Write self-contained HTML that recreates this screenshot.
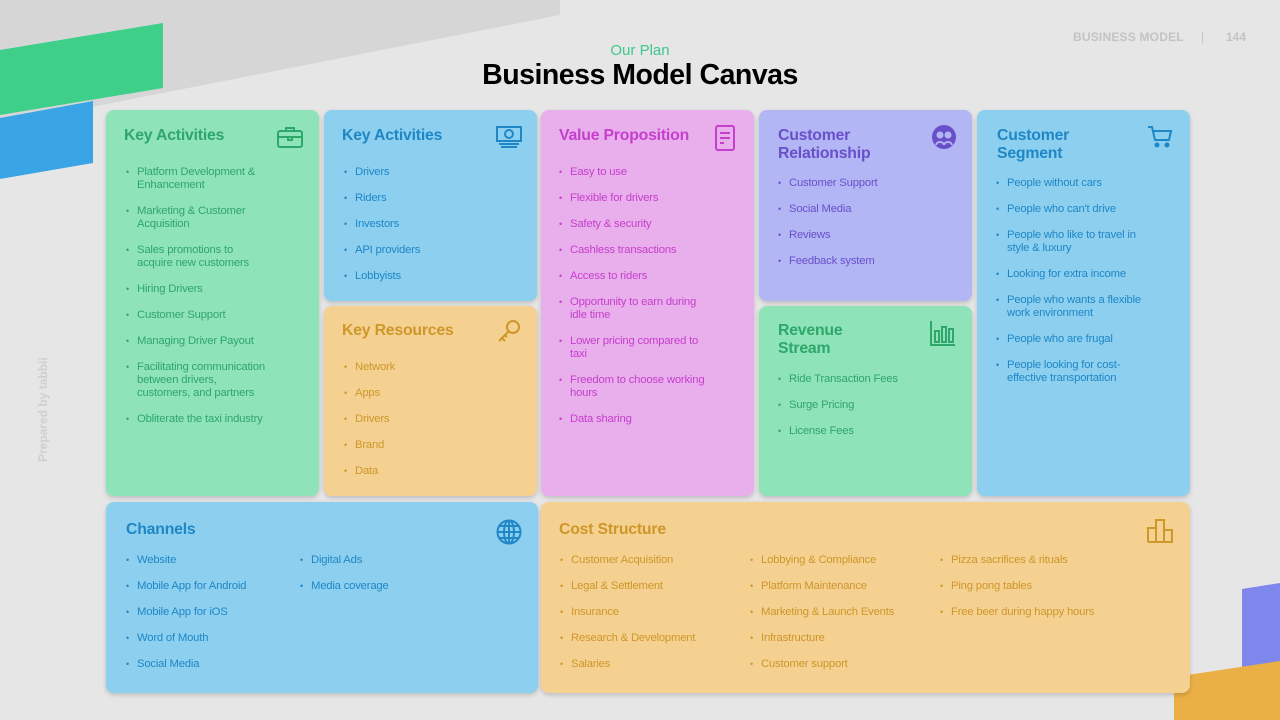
<!DOCTYPE html>
<html><head><meta charset="utf-8"><style>
*{margin:0;padding:0;box-sizing:border-box}
body{width:1280px;height:720px;overflow:hidden;background:#e7e6e7;font-family:"Liberation Sans",sans-serif;position:relative}
.c{position:absolute;border-radius:8px;box-shadow:0 2px 5px rgba(0,0,0,.18)}
.t{position:absolute;font-weight:bold;font-size:15.8px;line-height:18px;white-space:nowrap;letter-spacing:-.2px}
ul{position:absolute;list-style:none;font-size:11.3px;line-height:13px;white-space:nowrap;letter-spacing:-.2px}
li{margin-bottom:13px;position:relative;padding-left:11px}
li:before{content:"•";position:absolute;left:0;font-size:9px}
.g{background:#8ee3b9;color:#2fa66a}.b{background:#8ccfef;color:#1f87c6}.o{background:#f4d191;color:#cf962a}.p{background:#e9aeec;color:#c53fcc}.u{background:#b2b6f4;color:#6a4fcb}
svg{position:absolute}
</style></head><body>
<svg width="1280" height="720" style="left:0;top:0">
<polygon points="0,0 560,0 560,15 0,125" fill="#d6d6d6"/>
<polygon points="0,50 163,23 163,88 0,115" fill="#3ecf8b"/>
<polygon points="0,118 93,101 93,163 0,179" fill="#3aa5e4"/>
<polygon points="1242,589 1280,583 1280,665 1242,669" fill="#7f86ec"/>
<polygon points="1174,677 1280,661 1280,720 1174,720" fill="#ebb045"/>
</svg>
<div style="position:absolute;left:0;width:1280px;top:42px;text-align:center;color:#3ec88a;font-size:15px">Our Plan</div>
<div style="position:absolute;left:0;width:1280px;top:59px;text-align:center;color:#000;font-size:28.5px;font-weight:bold;letter-spacing:-.5px">Business Model Canvas</div>
<div style="position:absolute;left:1073px;top:30px;color:#c3c3c3;font-size:12px;font-weight:bold;letter-spacing:.2px">BUSINESS MODEL</div>
<div style="position:absolute;left:1201px;top:30px;color:#c3c3c3;font-size:12px">|</div>
<div style="position:absolute;left:1226px;top:30px;color:#c3c3c3;font-size:12px;font-weight:bold">144</div>
<div style="position:absolute;left:36px;top:462px;transform:rotate(-90deg);transform-origin:0 0;color:#cfcfcf;font-size:12px;font-weight:bold;white-space:nowrap">Prepared by tabbii</div>

<div class="c g" style="left:106px;top:110px;width:213px;height:386px">
<div class="t" style="left:18px;top:17px">Key Activities</div>
<svg style="left:170px;top:15px" width="28" height="24" viewBox="0 0 28 24" fill="none" stroke="#2fa66a" stroke-width="2"><rect x="2" y="6" width="24" height="16" rx="2"/><path d="M10 6V3h8v3M2 12h24M12 12v3h4v-3"/></svg>
<ul style="left:20px;top:56px"><li>Platform Development &amp;<br>Enhancement</li><li>Marketing &amp; Customer<br>Acquisition</li><li>Sales promotions to<br>acquire new customers</li><li>Hiring Drivers</li><li>Customer Support</li><li>Managing Driver Payout</li><li>Facilitating communication<br>between drivers,<br>customers, and partners</li><li>Obliterate the taxi industry</li></ul>
</div>

<div class="c b" style="left:324px;top:110px;width:213px;height:191px">
<div class="t" style="left:18px;top:17px">Key Activities</div>
<svg style="left:171px;top:15px" width="28" height="26" viewBox="0 0 28 26" fill="none" stroke="#1f87c6" stroke-width="2"><rect x="2" y="2" width="24" height="14"/><circle cx="14" cy="9" r="4"/><path d="M4 19h20M6 22h16"/></svg>
<ul style="left:20px;top:56px"><li>Drivers</li><li>Riders</li><li>Investors</li><li>API providers</li><li>Lobbyists</li></ul>
</div>

<div class="c o" style="left:324px;top:306px;width:213px;height:190px">
<div class="t" style="left:18px;top:16px">Key Resources</div>
<svg style="left:172px;top:12px" width="26" height="26" viewBox="0 0 26 26" fill="none" stroke="#cf962a" stroke-width="2"><circle cx="17" cy="9" r="6"/><path d="M13 13L3 23M6 20l3 3M9 17l2 2"/></svg>
<ul style="left:20px;top:55px"><li>Network</li><li>Apps</li><li>Drivers</li><li>Brand</li><li>Data</li></ul>
</div>

<div class="c p" style="left:541px;top:110px;width:213px;height:386px">
<div class="t" style="left:18px;top:17px">Value Proposition</div>
<svg style="left:173px;top:14px" width="22" height="28" viewBox="0 0 22 28" fill="none" stroke="#c53fcc" stroke-width="2"><rect x="2" y="2" width="18" height="24" rx="2"/><path d="M6 9h10M6 14h10M6 19h4"/></svg>
<ul style="left:18px;top:56px"><li>Easy to use</li><li>Flexible for drivers</li><li>Safety &amp; security</li><li>Cashless transactions</li><li>Access to riders</li><li>Opportunity to earn during<br>idle time</li><li>Lower pricing compared to<br>taxi</li><li>Freedom to choose working<br>hours</li><li>Data sharing</li></ul>
</div>

<div class="c u" style="left:759px;top:110px;width:213px;height:191px">
<div class="t" style="left:19px;top:17px">Customer<br>Relationship</div>
<svg style="left:172px;top:14px" width="26" height="26" viewBox="0 0 26 26"><circle cx="13" cy="13" r="12" fill="#6a4fcb"/><circle cx="9" cy="11" r="3.5" fill="#b2b6f4"/><circle cx="17" cy="11" r="3.5" fill="#b2b6f4"/><path d="M5 21c1-4 7-4 8 0M13 21c1-4 7-4 8 0" stroke="#b2b6f4" stroke-width="2" fill="none"/></svg>
<ul style="left:19px;top:67px"><li>Customer Support</li><li>Social Media</li><li>Reviews</li><li>Feedback system</li></ul>
</div>

<div class="c g" style="left:759px;top:306px;width:213px;height:190px">
<div class="t" style="left:19px;top:16px">Revenue<br>Stream</div>
<svg style="left:170px;top:13px" width="28" height="28" viewBox="0 0 28 28" fill="none" stroke="#2fa66a" stroke-width="2"><path d="M2 2v24h24"/><rect x="6" y="12" width="4" height="11"/><rect x="13" y="8" width="4" height="15"/><rect x="20" y="10" width="4" height="13"/></svg>
<ul style="left:19px;top:67px"><li>Ride Transaction Fees</li><li>Surge Pricing</li><li>License Fees</li></ul>
</div>

<div class="c b" style="left:977px;top:110px;width:213px;height:386px">
<div class="t" style="left:20px;top:17px">Customer<br>Segment</div>
<svg style="left:170px;top:15px" width="26" height="24" viewBox="0 0 26 24" fill="none" stroke="#1f87c6" stroke-width="2"><path d="M1 2h4l3 13h14l2-9H7"/><circle cx="10" cy="20" r="1.5" fill="#1f87c6"/><circle cx="20" cy="20" r="1.5" fill="#1f87c6"/></svg>
<ul style="left:19px;top:67px"><li>People without cars</li><li>People who can't drive</li><li>People who like to travel in<br>style &amp; luxury</li><li>Looking for extra income</li><li>People who wants a flexible<br>work environment</li><li>People who are frugal</li><li>People looking for cost-<br>effective transportation</li></ul>
</div>

<div class="c b" style="left:106px;top:502px;width:432px;height:191px">
<div class="t" style="left:20px;top:19px">Channels</div>
<svg style="left:390px;top:17px" width="26" height="26" viewBox="0 0 26 26" fill="none" stroke="#1f87c6" stroke-width="2"><circle cx="13" cy="13" r="11.5"/><ellipse cx="13" cy="13" rx="5" ry="11.5"/><path d="M1.5 13h23M3 7h20M3 19h20M13 1.5v23"/></svg>
<ul style="left:20px;top:52px"><li>Website</li><li>Mobile App for Android</li><li>Mobile App for iOS</li><li>Word of Mouth</li><li>Social Media</li></ul>
<ul style="left:194px;top:52px"><li>Digital Ads</li><li>Media coverage</li></ul>
</div>

<div class="c o" style="left:541px;top:502px;width:649px;height:191px">
<div class="t" style="left:18px;top:19px">Cost Structure</div>
<svg style="left:606px;top:15px" width="28" height="26" viewBox="0 0 28 26" fill="none" stroke="#cf962a" stroke-width="2"><path d="M1 25V11h8V25M9 25V3h8v22M17 25V13h8v12H1"/></svg>
<ul style="left:19px;top:52px"><li>Customer Acquisition</li><li>Legal &amp; Settlement</li><li>Insurance</li><li>Research &amp; Development</li><li>Salaries</li></ul>
<ul style="left:209px;top:52px"><li>Lobbying &amp; Compliance</li><li>Platform Maintenance</li><li>Marketing &amp; Launch Events</li><li>Infrastructure</li><li>Customer support</li></ul>
<ul style="left:399px;top:52px"><li>Pizza sacrifices &amp; rituals</li><li>Ping pong tables</li><li>Free beer during happy hours</li></ul>
</div>
</body></html>
